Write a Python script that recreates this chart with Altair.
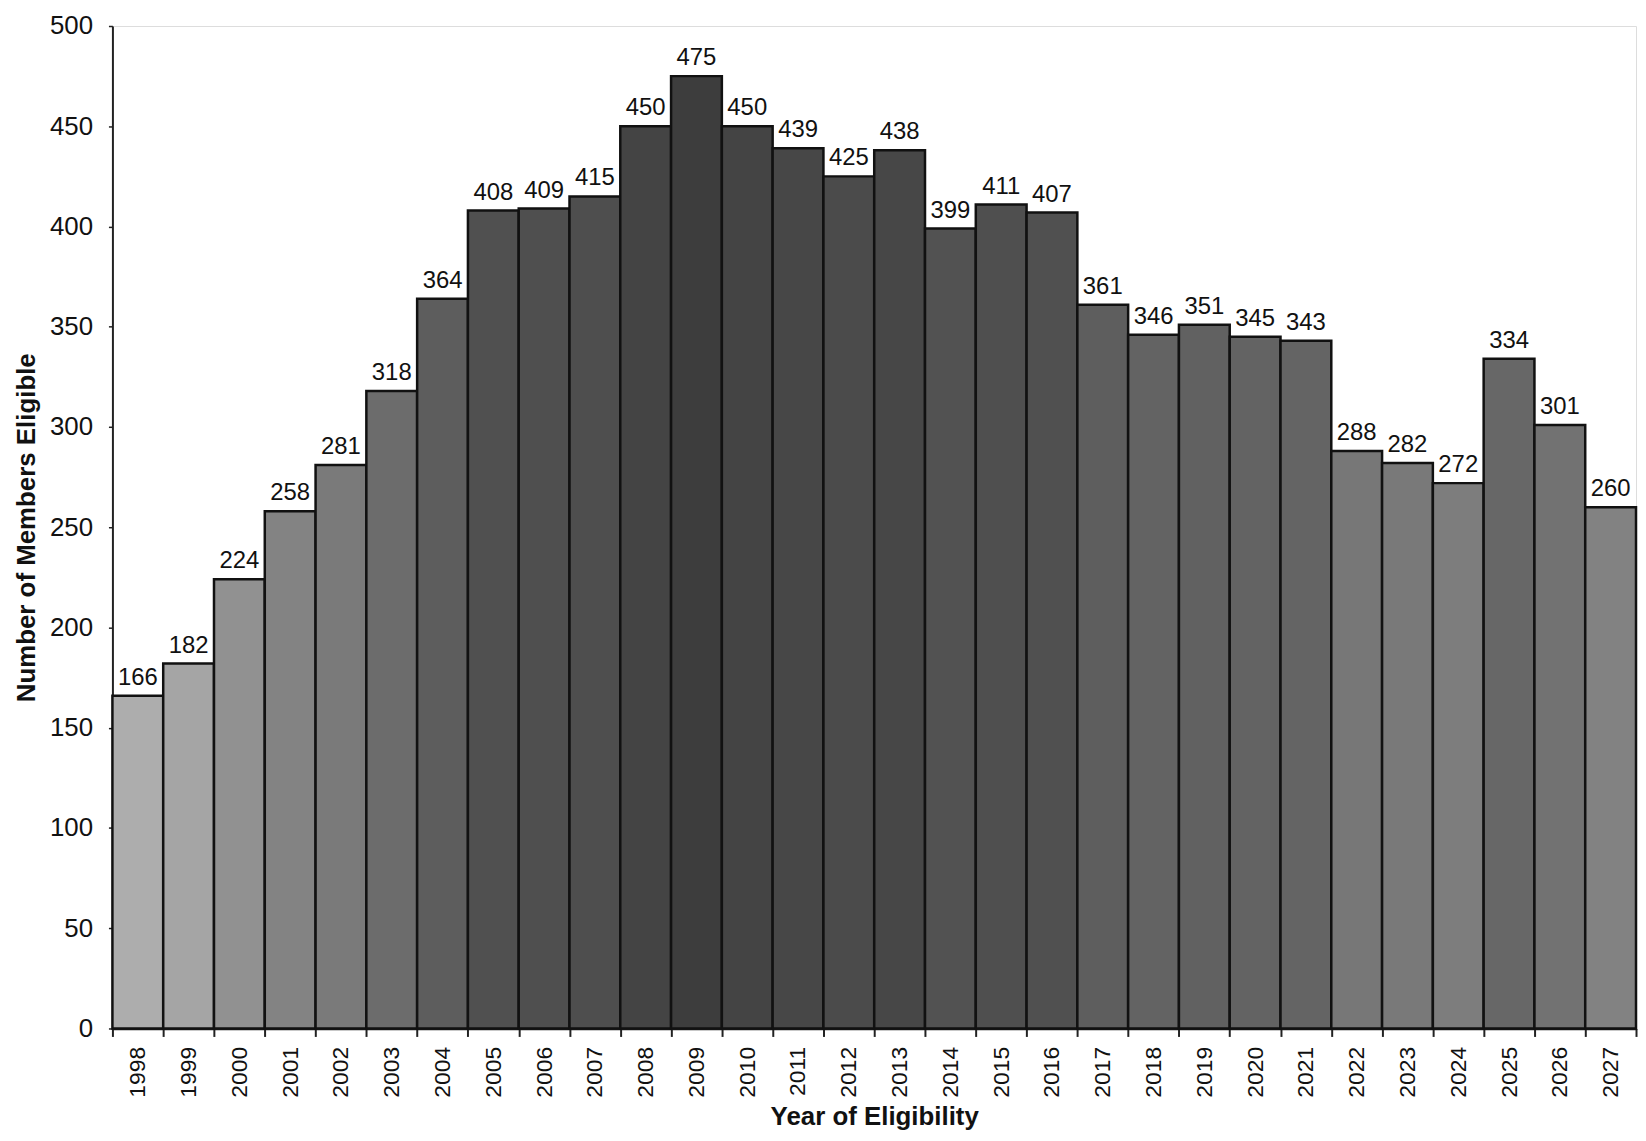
import altair as alt
import pandas as pd

years = [str(y) for y in range(1998, 2028)]
members = [166, 182, 224, 258, 281, 318, 364, 408, 409, 415,
           450, 475, 450, 439, 425, 438, 399, 411, 407, 361,
           346, 351, 345, 343, 288, 282, 272, 334, 301, 260]
y_ticks = list(range(0, 501, 50))

df = pd.DataFrame({"year": years, "members": members})

FONT = "Liberation Sans"

x_enc = alt.X(
    "year:O", sort=None,
    scale=alt.Scale(paddingInner=0, paddingOuter=0),
    axis=alt.Axis(
        title="Year of Eligibility", labelAngle=270, tickBand="extent",
        tickSize=8, tickWidth=2, tickColor="#222", labelPadding=10,
        labelFontSize=23, labelFont=FONT, labelColor="#111",
        titleFontSize=26, titleFont=FONT, titleFontWeight="bold",
        titleColor="#111", titlePadding=6,
        domainColor="#222", domainWidth=2.5,
    ),
)
y_enc = alt.Y(
    "members:Q",
    scale=alt.Scale(domain=[0, 500], nice=False),
    axis=alt.Axis(
        title="Number of Members Eligible", values=y_ticks, grid=False,
        tickSize=4, tickWidth=1.5, tickColor="#222", labelPadding=16,
        labelFontSize=26, labelFont=FONT, labelColor="#111",
        titleFontSize=26, titleFont=FONT, titleFontWeight="bold",
        titleColor="#111", titlePadding=10,
        domainColor="#222", domainWidth=2,
    ),
)

bars = alt.Chart(df).mark_bar(stroke="#111", strokeWidth=2.5).encode(
    x=x_enc,
    y=y_enc,
    color=alt.Color(
        "members:Q",
        scale=alt.Scale(type="pow", exponent=0.5, domain=[160, 480],
                        range=["#b0b0b0", "#3c3c3c"]),
        legend=None,
    ),
)

labels = alt.Chart(df).mark_text(
    baseline="bottom", dy=-6, fontSize=24, font=FONT, color="#111"
).encode(
    x=alt.X("year:O", sort=None),
    y=alt.Y("members:Q"),
    text="members:Q",
)

chart = (
    (bars + labels)
    .properties(
        width=1532, height=1008,
        padding={"left": 5, "top": 2, "right": 0, "bottom": 0},
    )
    .configure_view(stroke=None)
    .configure(background="white")
)

chart.save("out.html", embed_options={"renderer": "svg", "actions": False})
